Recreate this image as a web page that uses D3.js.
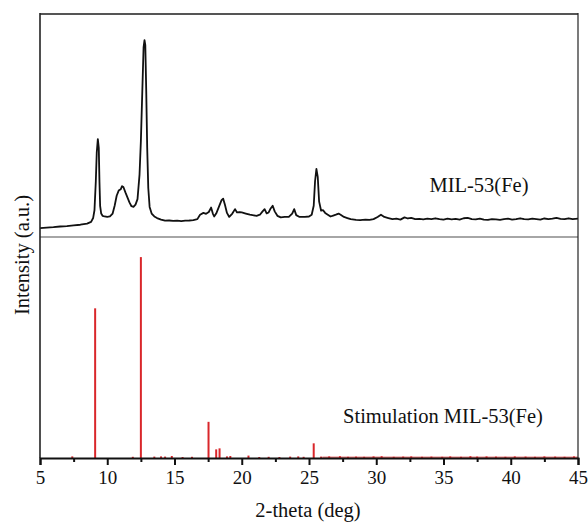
<!DOCTYPE html>
<html>
<head>
<meta charset="utf-8">
<script src="https://cdn.jsdelivr.net/npm/d3@7"></script>
<style>
  html, body { margin: 0; padding: 0; background: #fff; }
  svg text { font-family: "Liberation Serif", "Times New Roman", serif; fill: #111; }
</style>
</head>
<body>
<svg id="chart" width="588" height="523"></svg>
<script>
// ---- Data ----
// Measured pattern (top panel)
const measTheta = [5.0,5.5,6.0,6.5,7.0,7.5,8.0,8.5,8.8,8.95,9.05,9.15,9.22,9.3,9.37,9.42,9.47,9.55,9.65,9.8,10.0,10.2,10.4,10.55,10.7,10.85,11.0,11.1,11.2,11.35,11.5,11.65,11.8,11.95,12.1,12.25,12.4,12.5,12.6,12.7,12.77,12.83,12.9,12.97,13.05,13.15,13.3,13.5,13.7,14.0,14.3,14.6,14.9,15.2,15.5,15.8,16.1,16.4,16.7,16.9,17.15,17.35,17.55,17.72,17.85,17.95,18.1,18.3,18.5,18.62,18.75,18.9,19.07,19.3,19.5,19.65,19.85,20.0,20.3,20.6,20.9,21.1,21.35,21.55,21.7,21.85,22.0,22.15,22.3,22.45,22.65,22.9,23.2,23.5,23.75,23.9,24.05,24.3,24.7,25.0,25.2,25.35,25.45,25.55,25.65,25.75,25.9,26.05,26.2,26.4,26.6,26.8,27.0,27.2,27.35,27.6,27.85,28.1,28.5,28.8,29.2,29.5,29.8,30.1,30.35,30.6,30.9,31.2,31.5,31.8,32.1,32.35,32.6,32.9,33.2,33.5,33.8,34.1,34.4,34.7,35.0,35.3,35.6,35.9,36.2,36.5,36.8,37.1,37.4,37.7,38.0,38.3,38.6,38.9,39.2,39.5,39.8,40.1,40.4,40.7,41.0,41.3,41.6,41.9,42.2,42.5,42.8,43.1,43.4,43.7,44.0,44.3,44.6,45.0];
const measIntensity = [40,42,44,47,49,52,55,60,68,85,120,250,380,439,400,250,140,105,95,92,90,92,105,140,185,208,214,228,224,200,178,155,138,135,145,170,280,430,640,850,883,860,650,400,220,135,105,92,85,78,73,74,72,73,71,73,74,76,80,100,108,104,112,132,105,92,105,135,165,172,145,108,90,105,125,110,112,110,105,100,97,95,100,115,125,106,110,128,140,115,95,88,90,90,105,125,98,90,90,92,100,140,250,305,270,160,118,120,108,100,92,96,100,105,100,90,85,80,77,76,78,77,80,90,100,90,85,80,82,78,88,83,86,80,81,79,82,80,84,80,78,82,79,81,78,84,86,80,79,82,78,77,80,79,77,80,82,78,80,84,80,79,82,80,78,83,80,82,86,81,80,84,80,82];

// Simulated pattern (bottom panel): stick positions and relative intensities
const simTheta = [7.4,9.1,11.9,12.5,13.5,14.0,14.3,14.8,15.6,16.3,17.53,18.1,18.35,18.9,19.15,20.5,21.3,22.0,22.8,23.6,24.2,24.6,25.35,25.9,26.5,27.3,27.9,28.5,29.1,29.8,30.4,31.3,32.0,32.6,33.4,34.1,34.9,35.5,36.3,37.0,37.5,38.2,38.9,39.6,40.3,41.1,41.8,42.5,43.3,44.0,44.7];
const simIntensity = [0.8,74.5,0.6,100,0.7,0.8,0.7,1.0,0.5,0.6,18,4.3,4.8,0.8,1.0,1.2,0.5,0.6,0.5,0.7,0.8,0.6,7.3,0.7,0.8,0.9,0.6,0.7,0.6,0.8,0.9,0.6,0.7,0.8,0.6,0.7,0.6,0.8,0.6,0.9,0.7,0.8,0.7,0.6,0.8,0.7,0.6,0.8,0.7,0.6,0.8];

const xTicks = [5,10,15,20,25,30,35,40,45];
const xMinorTicks = [7.5,12.5,17.5,22.5,27.5,32.5,37.5,42.5];
const xLabel = "2-theta (deg)";
const yLabel = "Intensity (a.u.)";
const measLabel = "MIL-53(Fe)";
const simLabel = "Stimulation MIL-53(Fe)";

// ---- Layout ----
const svg = d3.select("#chart");
const mLeft = 40, mRight = 578, mTop = 14, mMid = 237, mBottom = 458;

const x = d3.scaleLinear().domain([5, 45]).range([mLeft, mRight]);
const yTop = d3.scaleLinear().domain([0, 1000]).range([mMid, mTop]);
const yBot = d3.scaleLinear().domain([0, 110]).range([mBottom, mMid]);

// Measured line
const measData = measTheta.map((t, i) => [t, measIntensity[i]]);
svg.append("path")
  .datum(measData)
  .attr("fill", "none")
  .attr("stroke", "#111")
  .attr("stroke-width", 1.8)
  .attr("stroke-linejoin", "round")
  .attr("d", d3.line().x(d => x(d[0])).y(d => yTop(d[1])));

// Simulated sticks
const simData = simTheta.map((t, i) => [t, simIntensity[i]]);
svg.append("line")
  .attr("x1", x(26)).attr("x2", x(45))
  .attr("y1", yBot(0.4)).attr("y2", yBot(0.4))
  .attr("stroke", "#e03a3a").attr("stroke-width", 1);
svg.append("g").selectAll("line")
  .data(simData).join("line")
  .attr("x1", d => x(d[0])).attr("x2", d => x(d[0]))
  .attr("y1", yBot(0)).attr("y2", d => yBot(d[1]))
  .attr("stroke", "#d9262a")
  .attr("stroke-width", 2);

// Frame
svg.append("line").attr("x1", mLeft).attr("x2", mRight).attr("y1", mTop).attr("y2", mTop)
  .attr("stroke", "#555").attr("stroke-width", 2);
svg.append("line").attr("x1", mLeft).attr("x2", mRight).attr("y1", mMid).attr("y2", mMid)
  .attr("stroke", "#888").attr("stroke-width", 1.6);
svg.append("line").attr("x1", mLeft).attr("x2", mLeft).attr("y1", mTop - 1).attr("y2", mBottom)
  .attr("stroke", "#222").attr("stroke-width", 1.6);
svg.append("line").attr("x1", mRight).attr("x2", mRight).attr("y1", mTop - 1).attr("y2", mBottom)
  .attr("stroke", "#222").attr("stroke-width", 1.2);

// X axis
const xAxis = d3.axisBottom(x).tickValues(xTicks).tickSize(7).tickPadding(6).tickFormat(d3.format("d"));
const gx = svg.append("g").attr("transform", `translate(0,${mBottom})`).call(xAxis);
gx.select(".domain").attr("stroke", "#111").attr("stroke-width", 2);
gx.selectAll(".tick line").attr("stroke", "#111").attr("stroke-width", 2);
gx.selectAll(".tick text").attr("font-size", 19).attr("font-family", "Liberation Serif, serif").attr("fill", "#111");
const xAxisMinor = d3.axisBottom(x).tickValues(xMinorTicks).tickSize(4).tickFormat("");
const gxm = svg.append("g").attr("transform", `translate(0,${mBottom})`).call(xAxisMinor);
gxm.select(".domain").remove();
gxm.selectAll(".tick line").attr("stroke", "#111").attr("stroke-width", 2);

// Labels
svg.append("text")
  .attr("x", (mLeft + mRight) / 2 - 1).attr("y", 517)
  .attr("text-anchor", "middle").attr("font-size", 20.5)
  .text(xLabel);
svg.append("text")
  .attr("transform", `translate(29,255) rotate(-90)`)
  .attr("text-anchor", "middle").attr("font-size", 20.5)
  .text(yLabel);
svg.append("text")
  .attr("x", 479).attr("y", 192)
  .attr("text-anchor", "middle").attr("font-size", 20.5)
  .text(measLabel);
svg.append("text")
  .attr("x", 443).attr("y", 423)
  .attr("text-anchor", "middle").attr("font-size", 20.5)
  .text(simLabel);
</script>
</body>
</html>
